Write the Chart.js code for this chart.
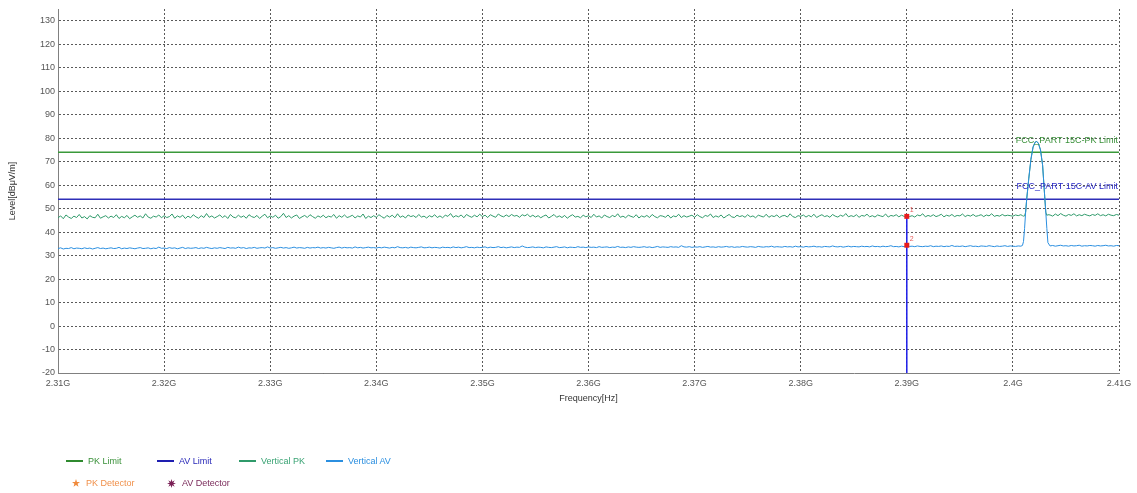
<!DOCTYPE html>
<html>
<head>
<meta charset="utf-8">
<title>Radiated Emission Sweep 2.31G - 2.41G</title>
<script src="https://cdn.jsdelivr.net/npm/chart.js@4/dist/chart.umd.min.js"></script>
<style>
    html, body { margin: 0; padding: 0; background: #ffffff; }
    #wrap {
        position: relative;
        width: 1137px;
        height: 493px;
        font-family: "Liberation Sans", Arial, sans-serif;
    }
    #wrap canvas { position: absolute; left: 0; top: 0; }
    .lg {
        position: absolute;
        font-size: 9px;
        line-height: 12px;
        white-space: nowrap;
        display: flex;
        align-items: center;
    }
    .lg .ln { display: inline-block; width: 17px; height: 1.5px; margin-right: 5px; }
    .lg svg { margin-right: 6px; }
</style>
</head>
<body>
<div id="wrap">
    <canvas id="sweepChart" width="1137" height="493"></canvas>

    <!-- Legend -->
    <div class="lg" style="left:66px; top:455px; color:#3a913a;"><i class="ln" style="background:#2f8a2f"></i>PK Limit</div>
    <div class="lg" style="left:157px; top:455px; color:#2828b8;"><i class="ln" style="background:#1e1eb0"></i>AV Limit</div>
    <div class="lg" style="left:239px; top:455px; color:#3aa374;"><i class="ln" style="background:#2f9a6a"></i>Vertical PK</div>
    <div class="lg" style="left:326px; top:455px; color:#2b8fe0;"><i class="ln" style="background:#2b8fe0"></i>Vertical AV</div>
    <div class="lg" style="left:72px; top:477px; color:#f0904a;">
        <svg width="8" height="8" viewBox="0 0 10 10"><polygon points="5,0 6.2,3.6 10,3.7 7,6 8.1,9.8 5,7.6 1.9,9.8 3,6 0,3.7 3.8,3.6" fill="#f08a3c"/></svg>PK Detector</div>
    <div class="lg" style="left:167px; top:477px; color:#7a2a5a;">
        <svg width="9" height="9" viewBox="0 0 10 10"><polygon points="5,0 5.9,3 8.5,1.5 7,4.1 10,5 7,5.9 8.5,8.5 5.9,7 5,10 4.1,7 1.5,8.5 3,5.9 0,5 3,4.1 1.5,1.5 4.1,3" fill="#7a1f55"/></svg>AV Detector</div>
</div>

<script>
// ============================================================================
// Sweep data (levels in dBuV/m, frequencies in MHz)
// ============================================================================

const SWEEP_STEP_MHZ = 0.25;

// 2310.00 .. 2400.25 MHz
const BELOW_START_MHZ = 2310;
const pkBelow = [
    46.1, 46.9, 45.7, 47.3, 46.4, 45.8, 46.8, 46.2, 47.5, 46.0, 46.6, 45.6, 47.0, 46.3, 46.1, 47.6, 45.9, 46.5, 47.0, 46.0,
    46.8, 46.2, 47.4, 45.8, 46.7, 46.1, 47.1, 45.7, 46.5, 47.2, 46.3, 46.9, 46.0, 47.8, 46.4, 45.9, 46.8, 46.4, 47.3, 46.1,
    47.0, 46.2, 46.6, 47.7, 45.9, 46.9, 46.3, 47.2, 45.8, 46.8, 46.1, 47.4, 46.5, 45.9, 47.0, 46.2, 47.9, 46.3, 46.9, 46.0,
    46.6, 47.3, 46.2, 47.0, 45.8, 47.5, 46.4, 46.1, 47.2, 46.3, 46.9, 45.9, 47.4, 46.6, 46.2, 47.1, 45.8, 46.8, 47.6, 46.1,
    46.9, 46.3, 47.2, 45.9, 46.6, 48.0, 46.2, 47.0, 46.0, 46.8, 47.3, 45.8, 46.5, 47.1, 46.2, 47.4, 46.6, 45.9, 46.9, 46.3,
    47.2, 46.1, 46.8, 46.4, 47.5, 45.9, 47.0, 46.3, 47.3, 46.2, 46.6, 47.2, 46.0, 46.9, 46.4, 47.7, 45.8, 46.8, 46.2, 47.0,
    46.3, 47.4, 46.6, 45.9, 47.1, 46.4, 47.2, 46.1, 47.8, 46.3, 46.9, 46.0, 47.3, 46.6, 47.0, 46.2, 47.5, 46.4, 46.8, 46.0,
    47.0, 46.4, 47.4, 46.2, 46.9, 46.1, 47.2, 46.7, 47.9, 46.3, 47.0, 46.5, 47.3, 46.1, 47.5, 46.8, 46.3, 47.2, 46.5, 47.6,
    46.6, 47.2, 46.2, 47.4, 46.8, 46.3, 47.7, 46.9, 46.5, 47.3, 46.6, 47.5, 46.8, 47.1, 46.3, 47.4, 46.9, 47.6, 46.5, 47.2,
    46.4, 47.0, 46.1, 46.8, 47.3, 46.0, 46.7, 47.5, 46.3, 46.9, 46.2, 47.1, 45.9, 46.8, 47.4, 46.4, 46.7, 46.1, 47.2, 46.5,
    47.0, 46.2, 47.6, 46.4, 46.9, 46.0, 47.3, 46.6, 46.2, 47.1, 46.5, 47.8, 46.3, 46.8, 46.1, 47.2, 46.7, 46.3, 47.4, 46.0,
    46.9, 46.4, 47.1, 46.2, 47.5, 46.6, 46.1, 47.0, 46.8, 46.3, 47.3, 46.0, 46.9, 46.5, 47.6, 46.2, 47.0, 46.4, 46.8, 47.2,
    46.3, 47.4, 46.6, 46.1, 47.1, 46.7, 47.7, 46.2, 46.9, 46.4, 47.3, 46.0, 46.8, 47.5, 46.5, 46.2, 47.2, 46.6, 47.0, 46.3,
    47.4, 46.5, 46.9, 46.1, 47.2, 46.8, 46.4, 47.6, 46.3, 47.0, 46.6, 47.3, 46.2, 46.9, 47.1, 46.4, 47.8, 46.6, 46.2, 47.0,
    46.7, 47.3, 46.4, 47.1, 46.5, 47.6, 46.2, 46.9, 47.4, 46.6, 47.0, 46.3, 47.5, 46.8, 46.4, 47.2, 46.7, 47.9, 46.5, 47.0,
    46.6, 47.4, 46.3, 47.1, 46.8, 47.6, 46.5, 47.0, 46.4, 47.3, 46.9, 46.6, 47.7, 46.4, 47.1, 46.8, 47.4, 46.5, 47.2, 46.7,
    46.7, 46.6, 47.0, 46.4, 47.3, 46.9, 47.8, 46.5, 47.1, 46.7, 47.4, 46.6, 47.0, 47.6, 46.5, 47.2, 46.8, 47.5, 46.6, 47.1,
    46.9, 47.7, 46.6, 47.2, 46.8, 47.5, 46.7, 47.0, 47.4, 46.6, 47.3, 46.9, 47.8, 46.7, 47.1, 46.8, 47.5, 46.9, 47.2, 47.0,
    46.8, 47.3
];
const avBelow = [
    33.0, 33.3, 32.8, 33.1, 33.0, 33.4, 32.9, 33.2, 33.1, 32.9, 33.3, 33.0, 33.2, 32.8, 33.1, 33.4, 33.0, 33.2, 32.9, 33.1,
    33.3, 33.0, 33.1, 33.5, 32.9, 33.2, 33.0, 33.3, 33.1, 32.9, 33.2, 33.4, 33.0, 33.1, 33.3, 32.9, 33.2, 33.0, 33.6, 33.1,
    33.2, 33.0, 33.4, 33.1, 33.3, 32.9, 33.2, 33.5, 33.0, 33.3, 33.1, 33.2, 33.4, 33.0, 33.3, 33.1, 33.5, 33.2, 33.0, 33.3,
    33.1, 33.4, 33.2, 33.0, 33.5, 33.2, 33.3, 33.1, 33.6, 33.2, 33.4, 33.0, 33.3, 33.2, 33.5, 33.1, 33.3, 33.4, 33.2, 33.7,
    33.2, 33.4, 33.1, 33.3, 33.5, 33.2, 33.4, 33.1, 33.3, 33.6, 33.2, 33.4, 33.3, 33.1, 33.5, 33.2, 33.4, 33.3, 33.6, 33.2,
    33.4, 33.2, 33.5, 33.3, 33.1, 33.4, 33.6, 33.2, 33.5, 33.3, 33.4, 33.2, 33.7, 33.3, 33.5, 33.2, 33.4, 33.6, 33.3, 33.4,
    33.2, 33.5, 33.3, 33.6, 33.4, 33.2, 33.5, 33.3, 33.8, 33.4, 33.3, 33.5, 33.2, 33.6, 33.4, 33.3, 33.5, 33.7, 33.3, 33.4,
    33.6, 33.3, 33.5, 33.4, 33.2, 33.6, 33.4, 33.5, 33.3, 33.7, 33.4, 33.6, 33.3, 33.5, 33.8, 33.4, 33.5, 33.3, 33.6, 33.4,
    33.5, 33.7, 33.3, 33.6, 33.4, 33.5, 33.8, 33.4, 33.6, 33.3, 33.5, 33.7, 33.4, 33.6, 33.5, 34.1, 33.6, 33.4, 33.5, 33.7,
    33.4, 33.6, 33.5, 33.3, 33.7, 33.5, 33.4, 33.6, 33.8, 33.4, 33.5, 33.7, 33.3, 33.6, 33.5, 33.4, 33.8, 33.5, 33.6, 33.4,
    33.7, 33.5, 33.6, 33.4, 33.8, 33.5, 33.6, 33.7, 33.4, 33.6, 33.5, 33.9, 33.5, 33.6, 33.4, 33.7, 33.5, 33.8, 33.6, 33.5,
    33.6, 33.8, 33.5, 33.7, 33.4, 33.6, 33.9, 33.5, 33.7, 33.6, 33.5, 33.8, 33.6, 33.7, 33.5, 34.2, 33.7, 33.6, 33.8, 33.5,
    33.7, 33.6, 33.8, 33.5, 33.7, 33.9, 33.6, 33.7, 33.5, 33.8, 33.6, 33.7, 33.9, 33.6, 33.8, 33.5, 33.7, 33.6, 33.9, 33.7,
    33.6, 33.8, 33.7, 33.5, 33.9, 33.7, 33.6, 33.8, 33.7, 34.0, 33.6, 33.8, 33.7, 33.6, 33.9, 33.7, 33.8, 33.6, 34.0, 33.7,
    33.8, 33.6, 33.9, 33.7, 33.8, 34.0, 33.7, 33.8, 33.6, 33.9, 33.8, 33.7, 34.1, 33.8, 33.7, 33.9, 33.6, 33.8, 34.0, 33.7,
    33.9, 33.8, 33.7, 34.0, 33.8, 33.9, 33.7, 34.1, 33.8, 33.9, 33.7, 34.0, 33.8, 33.9, 34.2, 33.8, 33.9, 33.7, 34.0, 33.8,
    34.4, 33.9, 34.0, 33.8, 34.1, 33.9, 33.8, 34.0, 33.9, 34.2, 33.8, 34.0, 33.9, 34.1, 33.8, 34.0, 33.9, 34.3, 33.9, 34.0,
    33.9, 34.1, 33.8, 34.0, 34.2, 33.9, 34.0, 33.8, 34.1, 34.0, 33.9, 34.2, 34.0, 33.8, 34.1, 33.9, 34.0, 34.2, 33.9, 34.1,
    34.0, 33.9
];

// carrier around 2.402 GHz, finer sampling
const peakMHz = [2400.5, 2400.75, 2400.9, 2401.0, 2401.1, 2401.2, 2401.3, 2401.5, 2401.7, 2401.9,
                 2402.1, 2402.25, 2402.4, 2402.6, 2402.8, 2403.0, 2403.1, 2403.2, 2403.3];
const pkPeak  = [47.0, 47.4, 47.0, 46.8, 46.9, 48.5, 54.0, 63.0, 71.0, 76.2,
                 78.3, 78.6, 77.8, 75.0, 68.5, 55.0, 48.5, 47.1, 47.4];
const avPeak  = [34.1, 34.0, 34.3, 36.0, 41.5, 48.5, 54.0, 63.0, 71.0, 76.2,
                 78.3, 78.6, 77.8, 75.0, 68.5, 55.0, 48.5, 41.5, 35.5];

// 2403.50 .. 2410.00 MHz
const ABOVE_START_MHZ = 2403.5;
const pkAbove = [47.3, 46.8, 47.7, 47.0, 47.9, 47.2, 46.8, 47.5, 47.1, 47.8, 46.9, 47.4, 47.0, 47.6,
                 47.2, 46.9, 47.5, 47.1, 47.8, 47.0, 47.4, 46.9, 47.6, 47.2, 47.0, 47.5, 47.2];
const avAbove = [34.1, 34.3, 34.0, 34.2, 34.4, 34.1, 34.2, 34.0, 34.3, 34.1, 34.2, 34.4, 34.0, 34.2,
                 34.1, 34.3, 34.2, 34.0, 34.3, 34.1, 34.2, 34.4, 34.1, 34.2, 34.0, 34.3, 34.2];

// Limits
const limitMHz = [2310, 2410];
const pkLimit = [74, 74];
const avLimit = [54, 54];
const pkLimitName = 'FCC_PART 15C-PK Limit';
const avLimitName = 'FCC_PART 15C-AV Limit';

// Markers at band edge
const markerMHz = [2390, 2390];
const markerLevel = [46.7, 34.4];
const markerNames = ['1', '2'];
const markerLineBottom = -20;

// Axes
const freqTicksMHz = [2310, 2320, 2330, 2340, 2350, 2360, 2370, 2380, 2390, 2400, 2410];
const freqTickLabels = ['2.31G', '2.32G', '2.33G', '2.34G', '2.35G', '2.36G', '2.37G', '2.38G', '2.39G', '2.4G', '2.41G'];
const levelTicks = [-20, -10, 0, 10, 20, 30, 40, 50, 60, 70, 80, 90, 100, 110, 120, 130];
const LEVEL_MIN = -20;
const LEVEL_MAX = 135;

// ============================================================================
// Helpers
// ============================================================================

function sweep(startMHz, values) {
    return values.map((v, i) => ({ x: startMHz + i * SWEEP_STEP_MHZ, y: v }));
}

function pairs(xs, ys) {
    return xs.map((x, i) => ({ x: x, y: ys[i] }));
}

const FONT = '"Liberation Sans", Arial, sans-serif';

// Text tags for limit lines and marker numbers
const tagsPlugin = {
    id: 'sweepTags',
    afterDatasetsDraw(chart) {
        const { ctx, chartArea, scales: { x, y } } = chart;
        ctx.save();
        ctx.font = '9px ' + FONT;
        ctx.textAlign = 'right';
        ctx.textBaseline = 'middle';

        ctx.fillStyle = '#3a913a';
        ctx.fillText(pkLimitName, chartArea.right - 1, y.getPixelForValue(pkLimit[1]) - 12);
        ctx.fillStyle = '#2a2ac8';
        ctx.fillText(avLimitName, chartArea.right - 1, y.getPixelForValue(avLimit[1]) - 13);

        ctx.font = '7px ' + FONT;
        ctx.textAlign = 'left';
        ctx.fillStyle = '#e85a5a';
        markerNames.forEach((name, i) => {
            ctx.fillText(name, x.getPixelForValue(markerMHz[i]) + 3, y.getPixelForValue(markerLevel[i]) - 6);
        });
        ctx.restore();
    }
};

// ============================================================================
// Chart
// ============================================================================

function renderSweepChart() {
    const ctx = document.getElementById('sweepChart');

    const pkPoints = [...sweep(BELOW_START_MHZ, pkBelow), ...pairs(peakMHz, pkPeak), ...sweep(ABOVE_START_MHZ, pkAbove)];
    const avPoints = [...sweep(BELOW_START_MHZ, avBelow), ...pairs(peakMHz, avPeak), ...sweep(ABOVE_START_MHZ, avAbove)];

    const traceStyle = { pointRadius: 0, borderWidth: 1, tension: 0, fill: false };

    return new Chart(ctx, {
        type: 'scatter',
        data: {
            datasets: [
                {
                    label: 'Markers',
                    data: pairs(markerMHz, markerLevel),
                    showLine: false,
                    pointStyle: 'rect',
                    pointRadius: 3.5,
                    backgroundColor: '#e81c1c',
                    borderColor: '#e81c1c',
                    borderWidth: 0,
                    order: 0
                },
                {
                    label: 'Marker line',
                    data: pairs([markerMHz[0], markerMHz[0]], [markerLevel[0], markerLineBottom]),
                    showLine: true,
                    pointRadius: 0,
                    borderColor: '#1f1fe8',
                    borderWidth: 1.5,
                    order: 1
                },
                {
                    label: 'Vertical AV',
                    data: avPoints,
                    showLine: true,
                    borderColor: '#2b8fe0',
                    ...traceStyle,
                    order: 2
                },
                {
                    label: 'Vertical PK',
                    data: pkPoints,
                    showLine: true,
                    borderColor: '#2f9a6a',
                    ...traceStyle,
                    order: 3
                },
                {
                    label: 'AV Limit',
                    data: pairs(limitMHz, avLimit),
                    showLine: true,
                    pointRadius: 0,
                    borderColor: '#2e2eb8',
                    borderWidth: 1.6,
                    order: 4
                },
                {
                    label: 'PK Limit',
                    data: pairs(limitMHz, pkLimit),
                    showLine: true,
                    pointRadius: 0,
                    borderColor: '#3a993a',
                    borderWidth: 1.6,
                    order: 5
                }
            ]
        },
        options: {
            responsive: false,
            animation: false,
            events: [],
            layout: { padding: { top: 9, right: 18, bottom: 85, left: 0 } },
            plugins: {
                legend: { display: false },
                tooltip: { enabled: false }
            },
            scales: {
                x: {
                    type: 'linear',
                    min: freqTicksMHz[0],
                    max: freqTicksMHz[freqTicksMHz.length - 1],
                    afterBuildTicks: (scale) => { scale.ticks = freqTicksMHz.map(v => ({ value: v })); },
                    afterFit: (scale) => { scale.height = 35; },
                    ticks: {
                        autoSkip: false,
                        maxRotation: 0,
                        padding: 5,
                        color: '#555555',
                        font: { family: FONT, size: 9 },
                        callback: (value, index) => freqTickLabels[index]
                    },
                    grid: { color: '#5a5a5a', lineWidth: 1, drawTicks: false },
                    border: { display: true, color: '#808080', width: 1, dash: [2, 2] },
                    title: {
                        display: true,
                        text: 'Frequency[Hz]',
                        color: '#333333',
                        font: { family: FONT, size: 9 },
                        padding: { top: 4, bottom: 4 }
                    }
                },
                y: {
                    min: LEVEL_MIN,
                    max: LEVEL_MAX,
                    afterBuildTicks: (scale) => { scale.ticks = levelTicks.map(v => ({ value: v })); },
                    afterFit: (scale) => { scale.width = 58; },
                    ticks: {
                        padding: 3,
                        color: '#555555',
                        font: { family: FONT, size: 9 }
                    },
                    grid: { color: '#5a5a5a', lineWidth: 1, drawTicks: false },
                    border: { display: true, color: '#808080', width: 1, dash: [2, 2] },
                    title: {
                        display: true,
                        text: 'Level[dBμV/m]',
                        color: '#333333',
                        font: { family: FONT, size: 9 },
                        padding: { top: 7, bottom: 7 }
                    }
                }
            }
        },
        plugins: [tagsPlugin]
    });
}

document.addEventListener('DOMContentLoaded', () => {
    renderSweepChart();
});
</script>
</body>
</html>
